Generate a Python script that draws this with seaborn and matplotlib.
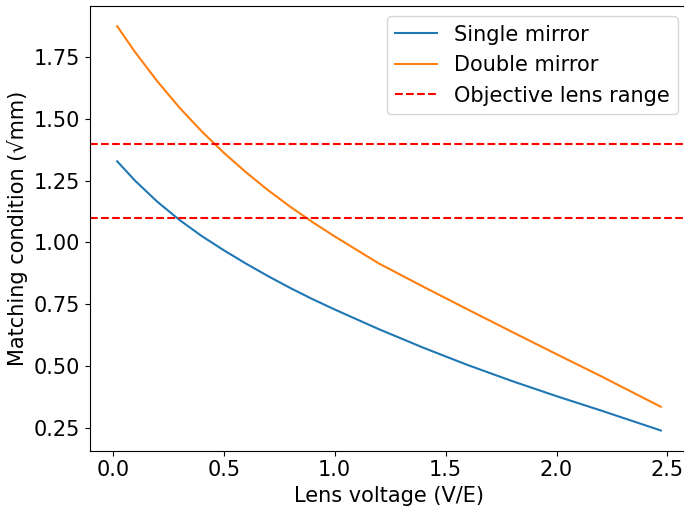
import matplotlib
matplotlib.use("Agg")
import matplotlib.pyplot as plt
import seaborn as sns
import pandas as pd

# Lens voltage (V/E)
voltage = [0.02, 0.1, 0.2, 0.3, 0.4, 0.5, 0.6, 0.7, 0.8, 0.9, 1.0,
           1.2, 1.4, 1.6, 1.8, 2.0, 2.2, 2.47]

# Matching condition (sqrt(mm)) for each mirror configuration
single_mirror = [1.328, 1.250, 1.165, 1.091, 1.026, 0.968, 0.914, 0.863,
                 0.815, 0.770, 0.728, 0.648, 0.573, 0.503, 0.438, 0.377,
                 0.319, 0.238]
double_mirror = [1.875, 1.771, 1.653, 1.546, 1.450, 1.363, 1.284, 1.211,
                 1.144, 1.082, 1.024, 0.914, 0.820, 0.728, 0.637, 0.547,
                 0.458, 0.334]

# Objective lens working range
lens_range = [1.4, 1.1]

plt.rcParams["font.size"] = 15

df = pd.DataFrame({
    "voltage": voltage * 2,
    "value": single_mirror + double_mirror,
    "config": ["Single mirror"] * len(voltage) + ["Double mirror"] * len(voltage),
})

fig = plt.figure(figsize=(6.84, 5.07), dpi=100)
ax = fig.add_axes([90 / 684, 56.3 / 507, 598 / 684, 444.7 / 507])

sns.lineplot(data=df, x="voltage", y="value", hue="config",
             palette=["#1f77b4", "#ff7f0e"], linewidth=1.5, ax=ax)

for i, level in enumerate(lens_range):
    ax.axhline(level, color="red", linestyle="--", linewidth=1.5,
               label="Objective lens range" if i == 0 else None)

ax.set_xlabel("Lens voltage (V/E)")
ax.set_ylabel("Matching condition (\u221amm)")
ax.set_yticks([0.25, 0.5, 0.75, 1.0, 1.25, 1.5, 1.75])
ax.legend(loc="upper right", fontsize=15)

fig.savefig("out.png", dpi=100)
